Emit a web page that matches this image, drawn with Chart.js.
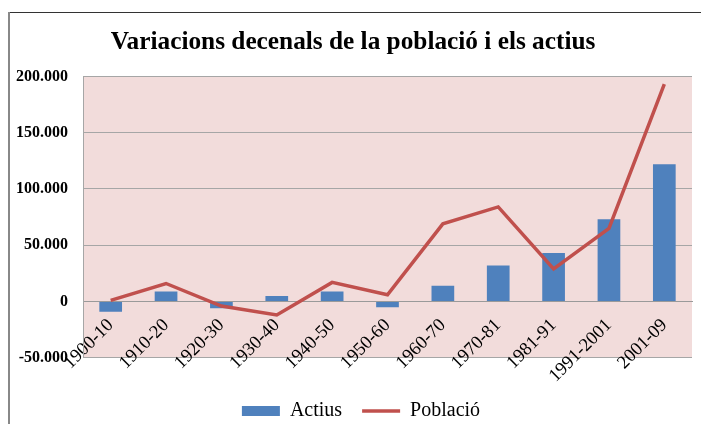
<!DOCTYPE html>
<html>
<head>
<meta charset="utf-8">
<script src="https://cdn.jsdelivr.net/npm/chart.js@4/dist/chart.umd.min.js"></script>
<style>
  html, body { margin: 0; padding: 0; background: #fff; overflow: hidden; }
  #wrap { position: relative; width: 701px; height: 424px; }
</style>
</head>
<body>
<div id="wrap"><canvas id="chart" width="701" height="424"></canvas></div>
<script>
// decades (x axis)
const periods = ['1900-10', '1910-20', '1920-30', '1930-40', '1940-50', '1950-60',
  '1960-70', '1970-81', '1981-91', '1991-2001', '2001-09'];

// change in active population per decade
const actius = [-9000, 9000, -6000, 5000, 9000, -5000, 14000, 32000, 43000, 73000, 122000];

// change in total population per decade
const poblacio = [1000, 16000, -4000, -12000, 17000, 6000, 69000, 84000, 29000, 65000, 193000];

const yTicks = [-50000, 0, 50000, 100000, 150000, 200000];

const serif = "'Liberation Serif', 'DejaVu Serif', serif";

// 200000 -> "200.000"
function fmt(v) {
  const s = String(Math.abs(v)).replace(/\B(?=(\d{3})+(?!\d))/g, '.');
  return v < 0 ? '-' + s : s;
}

// pink plot area + the frame lines of the original picture
const decor = {
  id: 'decor',
  afterLayout(chart) {
    // legend sits a bit right of centre in the original
    chart.legend.left += 8;
    chart.legend.right += 8;
  },
  beforeDraw(chart) {
    const { ctx, chartArea: a } = chart;
    ctx.save();
    ctx.fillStyle = '#F2DCDB';
    ctx.fillRect(a.left, a.top, a.right - a.left, a.bottom - a.top);
    ctx.strokeStyle = '#333';
    ctx.lineWidth = 1;
    ctx.beginPath();
    ctx.moveTo(9, 12.5);
    ctx.lineTo(701, 12.5);
    ctx.stroke();
    ctx.strokeStyle = '#888';
    ctx.lineWidth = 2;
    ctx.beginPath();
    ctx.moveTo(9, 12);
    ctx.lineTo(9, 424);
    ctx.stroke();
    ctx.restore();
  }
};

new Chart(document.getElementById('chart'), {
  type: 'bar',
  data: {
    labels: periods,
    datasets: [
      {
        label: 'Actius',
        data: actius,
        backgroundColor: '#4F81BD',
        borderWidth: 0,
        barPercentage: 0.41,
        categoryPercentage: 1,
        pointStyle: 'rect',
        order: 2
      },
      {
        type: 'line',
        label: 'Població',
        data: poblacio,
        borderColor: '#C0504D',
        backgroundColor: '#C0504D',
        borderWidth: 3.5,
        pointRadius: 0,
        tension: 0,
        pointStyle: 'line',
        order: 1
      }
    ]
  },
  options: {
    responsive: false,
    animation: false,
    layout: { padding: { left: 14, right: 9, top: 0, bottom: -7 } },
    plugins: {
      title: {
        display: true,
        text: 'Variacions decenals de la població i els actius',
        color: '#000',
        font: { family: serif, size: 25.3, weight: 'bold' },
        padding: { top: 27, bottom: 19 }
      },
      legend: {
        position: 'bottom',
        title: { display: true, text: ' ', font: { size: 1 }, padding: { top: 22, bottom: 0 } },
        labels: {
          color: '#000',
          font: { family: serif, size: 20 },
          usePointStyle: true,
          pointStyleWidth: 38,
          boxHeight: 10,
          padding: 20,
          sort: (a, b) => a.datasetIndex - b.datasetIndex
        }
      },
      tooltip: { enabled: false }
    },
    scales: {
      x: {
        position: { y: 0 },
        grid: { display: false, drawTicks: false },
        border: { display: true, color: '#9a9a9a' },
        ticks: {
          autoSkip: false,
          minRotation: 45,
          maxRotation: 45,
          padding: 13,
          color: '#000',
          font: { family: serif, size: 18.5 }
        }
      },
      y: {
        min: -50000,
        max: 200000,
        afterFit(scale) { scale.width = 69; },
        afterBuildTicks(scale) { scale.ticks = yTicks.map(v => ({ value: v })); },
        grid: { color: '#a6a6a6', drawTicks: false },
        border: { display: true, color: '#a6a6a6' },
        ticks: {
          padding: 15,
          color: '#000',
          font: { family: serif, size: 16, weight: 'bold' },
          callback: v => fmt(v)
        }
      }
    }
  },
  plugins: [decor]
});
</script>
</body>
</html>
